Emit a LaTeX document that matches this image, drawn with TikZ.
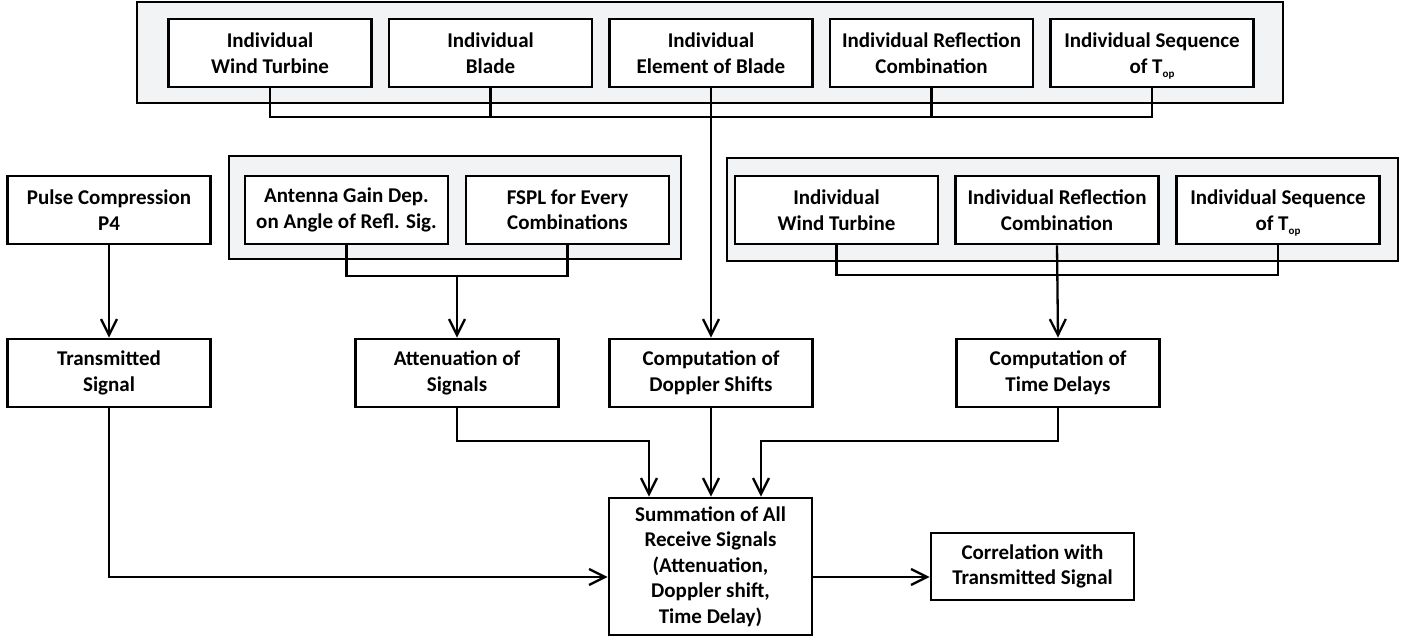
\documentclass[tikz,border=0pt]{standalone}
\usepackage{fontspec}
\setmainfont{Carlito}
\usetikzlibrary{arrows.meta,calc}
\definecolor{grpfill}{RGB}{242,243,245}
\newcommand{\Top}{T\raisebox{-4.5pt}[0pt][0pt]{\fontsize{11}{11}\selectfont op}}
\begin{document}
\begin{tikzpicture}[x=1pt,y=-1pt,
  box/.style={draw, line width=2.8pt, fill=white, minimum width=203pt, minimum height=68pt, inner sep=0pt, align=center, font=\bfseries\fontsize{21}{25.5}\selectfont},
  grp/.style={draw, line width=2.8pt, fill=grpfill, inner sep=0pt},
  conn/.style={line width=2.3pt},
  arr/.style={conn, -{Straight Barb[length=16pt,width=16pt,line width=2.3pt]}}
]
\useasboundingbox (0,0) rectangle (1413,640);

% top group
\node[grp, minimum width=1146pt, minimum height=101pt] (G1) at (710,52.5) {};
\node[box] (t1) at (270,53) {Individual\\Wind Turbine};
\node[box] (t2) at (490.5,53) {Individual\\Blade};
\node[box] (t3) at (711,53) {Individual\\Element of Blade};
\node[box] (t4) at (931.5,53) {Individual Reflection\\Combination};
\node[box] (t5) at (1152,53) {Individual Sequence\\of \Top};

% antenna group
\node[grp, minimum width=452pt, minimum height=103pt] (G2) at (455,207.5) {};
\node[box] (ag) at (346.5,210) {Antenna Gain Dep.\\on Angle of Refl. Sig.};
\node[box] (fs) at (567.5,210) {FSPL for Every\\Combinations};

% right group
\node[grp, minimum width=671pt, minimum height=103pt] (G3) at (1062.5,209.5) {};
\node[box] (rw) at (836.5,210) {Individual\\Wind Turbine};
\node[box] (rr) at (1057,210) {Individual Reflection\\Combination};
\node[box] (rs) at (1278,210) {Individual Sequence\\of \Top};

\node[box] (pc) at (109,210) {Pulse Compression\\P4};

% middle row
\node[box] (tx) at (109,373) {Transmitted\\Signal};
\node[box] (at) at (457,373) {Attenuation of\\Signals};
\node[box] (dp) at (711,373) {Computation of\\Doppler Shifts};
\node[box] (td) at (1058,373) {Computation of\\Time Delays};

% bottom
\node[box, minimum height=137pt] (sum) at (710.5,566.5) {Summation of All\\Receive Signals\\(Attenuation,\\Doppler shift,\\Time Delay)};
\node[box, minimum height=67pt] (cor) at (1032.5,566.5) {Correlation with\\Transmitted Signal};

% buses
\coordinate (busA) at (0,117);
\coordinate (busB) at (0,276);
\coordinate (busC) at (0,275);
\coordinate (busD) at (0,441);

\draw[conn] (t1.south) -- (t1.south |- busA) -- (t5.south |- busA) -- (t5.south);
\draw[conn] (t2.south) -- (t2.south |- busA);
\draw[conn] (t4.south) -- (t4.south |- busA);
\draw[arr] (t3.south) -- (dp.north);

\draw[conn] (ag.south) -- (ag.south |- busB) -- (fs.south |- busB) -- (fs.south);
\draw[arr] (at.north |- busB) -- (at.north);

\draw[conn] (rw.south) -- (rw.south |- busC) -- (rs.south |- busC) -- (rs.south);
\draw[arr] (rr.south) -- (td.north);

\draw[arr] (pc.south) -- (tx.north);

\draw[arr] (at.south) -- (at.south |- busD) -| ([xshift=-61.5pt]sum.north);
\draw[arr] (dp.south) -- (dp.south |- sum.north);
\draw[arr] (td.south) -- (td.south |- busD) -| ([xshift=50.5pt]sum.north);
\draw[arr] (tx.south) |- ([yshift=-10.5pt]sum.west);
\draw[arr] ([yshift=-10.5pt]sum.east) -- ([yshift=-10.5pt]cor.west);
\end{tikzpicture}
\end{document}
